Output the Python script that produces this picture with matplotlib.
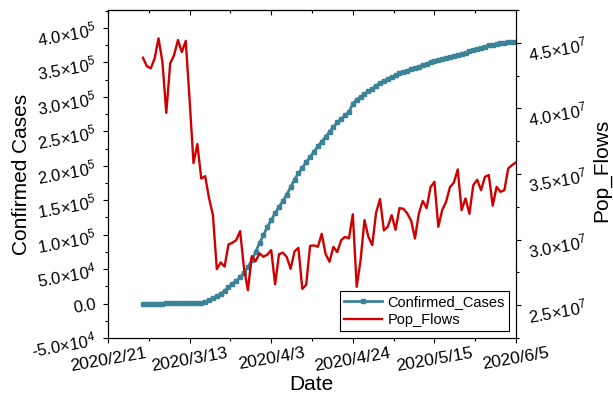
import matplotlib
matplotlib.use('Agg')
import matplotlib.pyplot as plt
import matplotlib.dates as mdates
import numpy as np
import pandas as pd
from matplotlib.ticker import FuncFormatter, FixedLocator, MultipleLocator

plt.rcParams['font.family'] = 'Liberation Sans'
plt.rcParams['mathtext.default'] = 'regular'

# daily series, starting 2020/3/1
start_date = '2020-03-01'
confirmed_cases = [
    1, 1, 2, 11, 22, 44, 89, 106, 142, 173,
    217, 326, 421, 613, 900, 1500, 2500, 4800, 7500, 10500,
    14000, 18500, 24000, 29000, 33000, 38000, 45000, 53000, 63000, 75000,
    88000, 99000, 111000, 121000, 131000, 140000, 149000, 158000, 169000, 180000,
    189000, 197000, 205000, 213000, 220000, 228000, 235000, 242000, 249000, 256000,
    263000, 268000, 273000, 278000, 290000, 296000, 300000, 304000, 308000, 312000,
    316000, 320000, 323000, 326000, 329000, 331000, 334000, 336000, 338000, 340000,
    342000, 344000, 346000, 348000, 350000, 351500, 353000, 354500, 356000, 358000,
    359500, 361000, 362500, 364000, 366500, 368500, 370000, 371500, 373000, 374500,
    375500, 376500, 377500, 378300, 379000, 379500, 380000,
]
# population flows, in units of 1e7
pop_flows = [
    4.386, 4.322, 4.305, 4.381, 4.534, 4.355, 3.966, 4.343, 4.406, 4.521,
    4.429, 4.515, 4.063, 3.583, 3.728, 3.465, 3.484, 3.316, 3.187, 2.775,
    2.826, 2.794, 2.963, 2.976, 2.996, 3.065, 2.780, 2.615, 2.874, 2.836,
    2.895, 2.869, 2.886, 2.920, 2.659, 2.888, 2.901, 2.867, 2.777, 2.911,
    2.937, 2.624, 2.656, 2.952, 2.956, 2.945, 3.044, 2.890, 2.831, 2.945,
    2.905, 2.996, 3.021, 3.009, 3.193, 2.640, 2.844, 3.149, 3.021, 2.958,
    3.206, 3.309, 3.070, 3.098, 3.187, 3.075, 3.240, 3.235, 3.200, 3.145,
    3.009, 3.200, 3.295, 3.240, 3.400, 3.441, 3.098, 3.225, 3.288, 3.400,
    3.434, 3.535, 3.225, 3.314, 3.197, 3.415, 3.456, 3.377, 3.479, 3.492,
    3.259, 3.402, 3.364, 3.377, 3.543, 3.568, 3.589,
]
tick_dates = pd.date_range('2020-02-21', '2020-06-05', freq='21D')
tick_labels = [f'{d.year}/{d.month}/{d.day}' for d in tick_dates]

dates = pd.date_range(start_date, periods=len(confirmed_cases), freq='D')
flows = np.array(pop_flows) * 1e7

teal = '#3B8396'
red = '#D00000'


def sci(v, pos):
    if abs(v) < 1e-9:
        return '0.0'
    e = int(np.floor(np.log10(abs(v)) + 1e-9))
    m = v / 10 ** e
    return f'{m:.1f}×10$^{{{e}}}$'


fig = plt.figure(figsize=(6.13, 3.94), dpi=100)
ax = fig.add_axes([0.1762, 0.1421, 0.6656, 0.8325])
ax.plot(dates, confirmed_cases, color=teal, lw=2, marker='s', ms=3.5,
        label='Confirmed_Cases')
ax2 = ax.twinx()
ax2.plot(dates, flows, color=red, lw=1.7, label='Pop_Flows')

ax.set_xlim(tick_dates[0], tick_dates[-1])
ax.set_xticks(tick_dates)
ax.set_xticklabels(tick_labels, rotation=10, fontsize=12.5)
ax.xaxis.set_minor_locator(FixedLocator(mdates.date2num(tick_dates[:-1]) + 10.5))
ax.tick_params(axis='x', which='major', direction='out', length=3.5, width=0.8, pad=2)
ax.tick_params(axis='x', which='minor', direction='out', length=2.2, width=0.8)

top = ax.secondary_xaxis('top')
top.set_xticks(tick_dates)
top.xaxis.set_minor_locator(FixedLocator(mdates.date2num(tick_dates[:-1]) + 10.5))
top.tick_params(which='both', direction='in', labeltop=False, width=0.8)
top.tick_params(which='major', length=3.5)
top.tick_params(which='minor', length=2.2)

ax.set_ylim(-5e4, 4.26e5)
ax.yaxis.set_major_locator(MultipleLocator(5e4))
ax.yaxis.set_minor_locator(MultipleLocator(2.5e4))
ax.yaxis.set_major_formatter(FuncFormatter(sci))
ax.tick_params(axis='y', which='both', direction='out', width=0.8, labelsize=12,
               labelrotation=10, pad=4)
ax.tick_params(axis='y', which='major', length=3.5)
ax.tick_params(axis='y', which='minor', length=2.2)

ax2.set_ylim(2.25e7, 4.75e7)
ax2.yaxis.set_major_locator(MultipleLocator(5e6))
ax2.yaxis.set_minor_locator(MultipleLocator(2.5e6))
ax2.yaxis.set_major_formatter(FuncFormatter(sci))
ax2.tick_params(axis='y', which='both', direction='out', width=0.8, labelsize=12,
                labelrotation=10, pad=4)
ax2.tick_params(axis='y', which='major', length=3.5)
ax2.tick_params(axis='y', which='minor', length=2.2)

for a in (ax, ax2):
    for s in a.spines.values():
        s.set_linewidth(0.8)

ax.set_xlabel('Date', fontsize=15)
ax.xaxis.set_label_coords(0.499, -0.113)
ax.set_ylabel('Confirmed Cases', fontsize=15)
ax.yaxis.set_label_coords(-0.189, 0.5)
ax2.set_ylabel('Pop_Flows', fontsize=15)
ax2.yaxis.set_label_coords(1.187, 0.51)

handles = ax.get_lines() + ax2.get_lines()
leg = ax2.legend(handles, [h.get_label() for h in handles], loc='lower right',
                 fontsize=10.5, frameon=True, fancybox=False, edgecolor='black',
                 framealpha=1, handlelength=2.6, borderpad=0.3, labelspacing=0.25,
                 borderaxespad=0.45, handletextpad=0.4)
leg.get_frame().set_linewidth(0.8)

fig.savefig('out.png', dpi=100)
